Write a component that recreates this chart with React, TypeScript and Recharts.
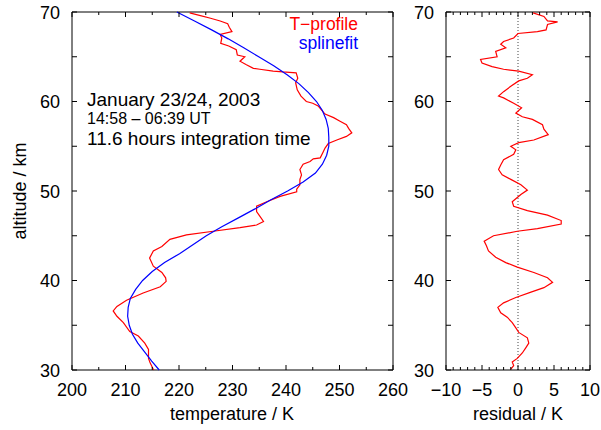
import React from 'react';
import { ScatterChart, Scatter, XAxis, YAxis, ReferenceLine, Legend } from 'recharts';

// measured temperature profile (altitude km, temperature K)
const profileAlt = [69.9, 69.6, 69.3, 69.0, 68.7, 68.3, 67.8, 67.5, 67.1, 66.5, 66.2, 65.8, 65.2, 65.0, 64.5, 64.1, 63.7, 63.6, 63.4, 63.3, 63.2, 62.6, 62.1, 61.3, 60.6, 60.0, 59.8, 59.5, 59.0, 58.6, 58.2, 57.8, 57.4, 57.0, 56.5, 56.1, 55.7, 55.3, 54.8, 54.3, 53.7, 53.6, 53.3, 53.0, 52.4, 51.8, 51.3, 50.7, 50.2, 49.9, 49.4, 48.8, 48.3, 47.7, 47.2, 46.6, 46.2, 45.9, 45.5, 45.1, 44.6, 43.8, 43.3, 42.5, 41.6, 40.9, 40.3, 39.9, 39.3, 38.6, 37.8, 37.1, 36.6, 36.0, 35.3, 34.3, 33.8, 33.0, 32.3, 31.3, 30.8, 30.2, 30.0];
const profileTemp = [222.0, 224.0, 225.9, 227.7, 229.1, 229.4, 229.9, 227.7, 228.0, 227.8, 229.3, 230.7, 230.9, 232.3, 231.4, 232.6, 233.9, 235.1, 237.6, 239.4, 241.9, 242.2, 241.8, 242.1, 242.8, 243.8, 245.0, 246.0, 246.7, 247.3, 248.9, 250.1, 251.3, 251.7, 252.3, 251.3, 249.5, 247.9, 247.3, 246.9, 246.4, 245.1, 244.5, 243.2, 242.6, 242.9, 242.6, 242.6, 242.0, 242.0, 238.9, 236.4, 234.5, 234.5, 235.1, 235.8, 234.5, 231.4, 226.4, 221.4, 218.3, 216.8, 215.2, 214.5, 215.2, 216.8, 217.5, 217.6, 216.5, 213.3, 210.2, 208.4, 207.7, 208.4, 209.6, 210.8, 212.4, 213.6, 214.3, 214.3, 214.6, 215.1, 215.3];

// spline fit
const splineAlt = [70, 69, 68, 67, 66, 65, 64, 63, 62, 61, 60, 59, 58, 57, 56, 55, 54, 53, 52, 51, 50, 49, 48, 47, 46, 45, 44, 43, 42, 41, 40, 39, 38, 37, 36, 35, 34, 33, 32, 31, 30];
const splineTemp = [219.6, 222.9, 226.1, 229.2, 232.1, 234.9, 237.7, 240.2, 242.4, 244.2, 245.7, 246.8, 247.5, 247.9, 248.0, 248.0, 247.6, 246.8, 245.5, 243.2, 240.3, 237.1, 234.2, 231.1, 228.0, 225.1, 222.6, 220.1, 217.3, 215.0, 213.2, 211.9, 210.9, 210.5, 210.4, 210.7, 211.3, 212.3, 213.6, 214.9, 216.3];

// residual panel
const residAlt = [69.9, 69.5, 69.0, 68.9, 68.6, 68.0, 67.8, 67.6, 67.1, 66.7, 66.4, 66.0, 65.6, 65.0, 64.7, 64.3, 63.9, 63.6, 63.4, 63.0, 62.6, 62.3, 61.7, 61.1, 60.6, 60.4, 59.8, 59.3, 58.7, 58.3, 58.0, 57.4, 56.9, 56.3, 55.7, 55.4, 55.0, 54.6, 54.1, 53.5, 52.9, 52.4, 51.8, 51.3, 50.7, 50.1, 49.6, 48.8, 48.3, 47.8, 47.3, 46.7, 46.3, 45.8, 45.5, 45.0, 44.4, 43.9, 43.3, 42.6, 42.0, 41.5, 40.9, 40.3, 39.8, 39.2, 38.7, 38.1, 37.5, 37.0, 36.4, 35.9, 35.3, 34.7, 34.2, 33.6, 33.0, 32.5, 31.9, 31.3, 30.9, 30.5, 30.1];
const residual = [2.1, 3.6, 4.1, 5.5, 4.1, 3.9, 2.7, 0.0, -0.6, -2.0, -2.4, -1.7, -3.1, -2.9, -5.2, -5.0, -3.6, -2.0, 0.1, 2.0, 1.3, 0.1, -1.0, -2.0, -2.7, -2.0, -0.6, 0.5, -0.3, 0.6, 2.0, 3.4, 3.6, 4.2, 2.2, 0.1, -1.0, -0.3, -0.6, -2.0, -2.4, -2.7, -2.2, -1.0, 0.4, 1.3, 0.4, -0.8, -0.6, 1.3, 4.1, 6.0, 6.0, 2.7, -0.1, -3.4, -4.7, -4.4, -4.1, -3.1, -1.7, -0.1, 2.2, 4.1, 4.8, 3.6, 1.8, -0.3, -2.0, -2.8, -2.4, -1.5, -0.8, -0.3, 0.1, 1.3, 1.5, 1.1, 0.6, -0.1, -0.8, -0.6, -1.0];

const tempTicks = [200, 205, 210, 215, 220, 225, 230, 235, 240, 245, 250, 255, 260];
const altTicks = [30, 35, 40, 45, 50, 55, 60, 65, 70];
const residTicks = [-10, -9, -8, -7, -6, -5, -4, -3, -2, -1, 0, 1, 2, 3, 4, 5, 6, 7, 8, 9, 10];

const profileData = profileAlt.map((a, i) => ({ alt: a, t: profileTemp[i] }));
const splineData = splineAlt.map((a, i) => ({ alt: a, t: splineTemp[i] }));
const residData = residAlt.map((a, i) => ({ alt: a, r: residual[i] }));

const FONT = '"Liberation Sans", Arial, Helvetica, sans-serif';
const AXIS = '#000';
const legendOrder = ['T\u2212profile', 'splinefit'];

const fmt = (v: number) => (v < 0 ? '\u2212' + Math.abs(v) : String(v));

// gnuplot-like inward ticks
const xTick = (edge: number, dir: number, step: number, labels: boolean) => (p: any) => {
  const v = p.payload.value;
  const major = v % step === 0;
  return (
    <g>
      <line x1={p.x} x2={p.x} y1={edge} y2={edge + dir * (major ? 5 : 3)} stroke={AXIS} />
      {labels && major && (
        <text x={p.x} y={edge + 26} textAnchor="middle" fontSize={18} fontFamily={FONT} fill="#000">
          {fmt(v)}
        </text>
      )}
    </g>
  );
};

const yTick = (edge: number, dir: number, labels: boolean) => (p: any) => {
  const v = p.payload.value;
  return (
    <g>
      <line x1={edge} x2={edge + dir * 5} y1={p.y} y2={p.y} stroke={AXIS} />
      {labels && v % 10 === 0 && (
        <text x={edge - 12} y={p.y + 6.5} textAnchor="end" fontSize={18} fontFamily={FONT} fill="#000">
          {v}
        </text>
      )}
    </g>
  );
};

const renderLegend = (props: any) => {
  const items = [...(props.payload || [])].sort(
    (a: any, b: any) => legendOrder.indexOf(a.value) - legendOrder.indexOf(b.value)
  );
  return (
    <div style={{ textAlign: 'right', fontFamily: FONT, fontSize: 17.5, lineHeight: '19px' }}>
      {items.map((e: any) => (
        <div key={e.value} style={{ color: e.color }}>{e.value}</div>
      ))}
    </div>
  );
};

const Empty = () => <g />;

export default function App() {
  return (
    <div style={{ position: 'absolute', left: 0, top: 0, width: 601, height: 430, background: '#fff' }}>
      <div style={{ position: 'absolute', left: 0, top: 0 }}>
        <ScatterChart width={410} height={430} margin={{ top: 11, right: 16, bottom: 30, left: 22 }}>
          <XAxis xAxisId="b" type="number" dataKey="t" domain={[200, 260]} ticks={tempTicks} interval={0}
            height={30} tickLine={false} axisLine={{ stroke: AXIS }} tick={xTick(370, -1, 10, true)} />
          <XAxis xAxisId="t" orientation="top" type="number" dataKey="t" domain={[200, 260]} ticks={tempTicks}
            interval={0} height={1} tickLine={false} axisLine={{ stroke: AXIS }} tick={xTick(12, 1, 10, false)} />
          <YAxis yAxisId="l" type="number" dataKey="alt" domain={[30, 70]} ticks={altTicks} interval={0}
            width={50} tickLine={false} axisLine={{ stroke: AXIS }} tick={yTick(72, 1, true)} />
          <YAxis yAxisId="r" orientation="right" type="number" dataKey="alt" domain={[30, 70]} ticks={altTicks}
            interval={0} width={1} tickLine={false} axisLine={{ stroke: AXIS }} tick={yTick(393, -1, false)} />
          <Scatter xAxisId="t" yAxisId="r" data={splineData} shape={<Empty />} legendType="none"
            isAnimationActive={false} />
          <Scatter xAxisId="b" yAxisId="l" name={'T\u2212profile'} data={profileData} fill="#ff0000"
            shape={<Empty />} line={{ stroke: '#ff0000', strokeWidth: 1.2 }} lineType="joint"
            isAnimationActive={false} />
          <Scatter xAxisId="b" yAxisId="l" name="splinefit" data={splineData} fill="#0000ff"
            shape={<Empty />} line={{ stroke: '#0000ff', strokeWidth: 1.2 }} lineType="joint"
            isAnimationActive={false} />
          <Legend layout="vertical" align="center" verticalAlign="middle" content={renderLegend}
            wrapperStyle={{ left: 180, top: 15, width: 178, height: 40, bottom: 'auto', right: 'auto' }} />
        </ScatterChart>
      </div>
      <div style={{ position: 'absolute', left: 400, top: 0 }}>
        <ScatterChart width={201} height={430} margin={{ top: 11, right: 10, bottom: 30, left: 6 }}>
          <XAxis xAxisId="b" type="number" dataKey="r" domain={[-10, 10]} ticks={residTicks} interval={0}
            height={30} tickLine={false} axisLine={{ stroke: AXIS }} tick={xTick(370, -1, 5, true)} />
          <XAxis xAxisId="t" orientation="top" type="number" dataKey="r" domain={[-10, 10]} ticks={residTicks}
            interval={0} height={1} tickLine={false} axisLine={{ stroke: AXIS }} tick={xTick(12, 1, 5, false)} />
          <YAxis yAxisId="l" type="number" dataKey="alt" domain={[30, 70]} ticks={altTicks} interval={0}
            width={40} tickLine={false} axisLine={{ stroke: AXIS }} tick={yTick(46, 1, true)} />
          <YAxis yAxisId="r" orientation="right" type="number" dataKey="alt" domain={[30, 70]} ticks={altTicks}
            interval={0} width={1} tickLine={false} axisLine={{ stroke: AXIS }} tick={yTick(190, -1, false)} />
          <ReferenceLine xAxisId="b" yAxisId="l" x={0} stroke="#444" strokeDasharray="1 2" />
          <Scatter xAxisId="t" yAxisId="r" data={residData} shape={<Empty />} legendType="none"
            isAnimationActive={false} />
          <Scatter xAxisId="b" yAxisId="l" name="residual" data={residData} fill="#ff0000" shape={<Empty />}
            line={{ stroke: '#ff0000', strokeWidth: 1.2 }} lineType="joint" isAnimationActive={false} />
        </ScatterChart>
      </div>
      <svg width={601} height={430} style={{ position: 'absolute', left: 0, top: 0, pointerEvents: 'none' }}>
        <g fontFamily={FONT} fill="#000">
          <text x={87} y={106} fontSize={19}>January 23/24, 2003</text>
          <text x={87} y={124} fontSize={16}>14:58 – 06:39 UT</text>
          <text x={87} y={145} fontSize={19}>11.6 hours integration time</text>
          <text x={232} y={420} fontSize={18} textAnchor="middle">temperature / K</text>
          <text x={518} y={420} fontSize={18} textAnchor="middle">residual / K</text>
          <text x={26} y={191} fontSize={18} textAnchor="middle" transform="rotate(-90 26 191)">altitude / km</text>
        </g>
      </svg>
    </div>
  );
}
